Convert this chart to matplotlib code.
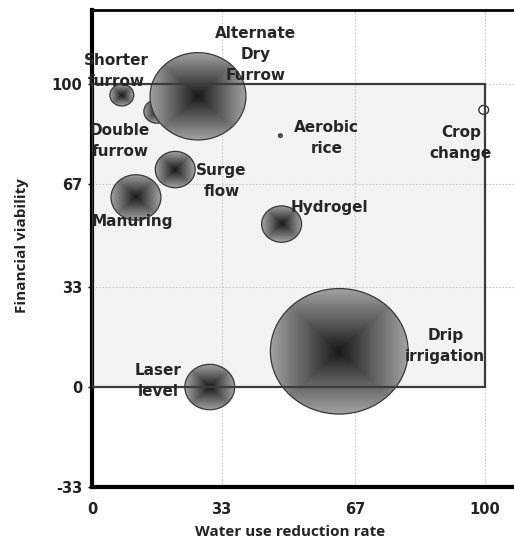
import numpy as np
import matplotlib.pyplot as plt
from matplotlib.patches import Ellipse, Rectangle
from matplotlib.colors import LinearSegmentedColormap

# practices: water use reduction rate, financial viability, bubble size
names = ["Shorter\nfurrow", "Double\nfurrow", "Alternate\nDry\nFurrow", "Surge\nflow",
         "Manuring", "Aerobic\nrice", "Crop\nchange", "Hydrogel", "Laser\nlevel",
         "Drip\nirrigation"]
water = [7.6, 16.5, 27.0, 21.2, 11.2, 48.0, 99.8, 48.3, 30.0, 63.0]
finance = [96.4, 91.0, 96.0, 71.8, 62.6, 83.0, 91.5, 53.8, 0.0, 11.8]
size = [3.0, 3.5, 48.4, 8.4, 13.1, 0.08, 0.5, 8.4, 13.1, 100.0]

# label positions (data units)
label_x = [6.1, 7.1, 41.7, 33.0, 10.4, 59.8, 94.0, 60.6, 16.8, 90.0]
label_y = [104.4, 81.3, 109.8, 68.0, 54.8, 82.3, 80.7, 59.3, 2.0, 13.4]

xticks = [0, 33, 67, 100]
yticks = [-33, 0, 33, 67, 100]

fig = plt.figure(figsize=(5.14, 5.39), dpi=100)
ax = fig.add_axes([0.179, 0.0965, 0.840, 0.885])

xmin, xmax = 0, 110
ymin, ymax = -33, 124.5

# light box for the 0..100 square
ax.add_patch(Rectangle((0, 0), 100, 100, facecolor="#f3f3f3", edgecolor="none", zorder=0))

for v in [33, 67, 100]:
    ax.axvline(v, color="#c8c8c8", lw=0.8, ls=(0, (1.5, 1.5)), zorder=1)
    ax.axhline(v, color="#c8c8c8", lw=0.8, ls=(0, (1.5, 1.5)), zorder=1)

cmap = LinearSegmentedColormap.from_list("bub", ["#181818", "#606060", "#a2a2a2"])
u = np.linspace(-1, 1, 300)
uu, vv = np.meshgrid(u, u)
grad = np.maximum(np.abs(uu), np.abs(vv))

# pixel scale: x 3.93 px/unit, y 3.03 px/unit; bubbles slightly wider than tall
for i in range(len(names)):
    rx_px = 69 * np.sqrt(size[i] / 100.0)
    ry_px = rx_px * 0.91
    wx = rx_px / 3.93
    wy = ry_px / 3.03
    x, y = water[i], finance[i]
    if names[i].startswith("Crop"):
        ax.add_patch(Ellipse((x, y), 2 * wx, 2 * wy, facecolor="white",
                             edgecolor="#333333", lw=1.0, zorder=3 + i * 0.1))
        continue
    e = Ellipse((x, y), 2 * wx, 2 * wy, facecolor="none", edgecolor="#383838",
                lw=0.9, zorder=3 + i * 0.1 + 0.05)
    ax.add_patch(e)
    im = ax.imshow(grad, cmap=cmap, extent=[x - wx, x + wx, y - wy, y + wy],
                   aspect="auto", interpolation="bilinear", zorder=3 + i * 0.1,
                   vmin=0, vmax=1)
    im.set_clip_path(e)

# box outline drawn over bubbles
ax.add_patch(Rectangle((0, 0), 100, 100, facecolor="none", edgecolor="#3c3c3c",
                       lw=1.6, zorder=6))

for i in range(len(names)):
    ax.text(label_x[i], label_y[i], names[i], ha="center", va="center",
            fontsize=11, color="#262626", fontweight="bold", linespacing=1.5,
            zorder=8)

ax.set_xlim(xmin, xmax)
ax.set_ylim(ymin, ymax)
ax.set_xticks(xticks)
ax.set_yticks(yticks)
ax.set_xticklabels([str(t) for t in xticks], fontsize=10.5, fontweight="bold", color="#222222")
ax.set_yticklabels([str(t) for t in yticks], fontsize=10.5, fontweight="bold", color="#222222")
ax.tick_params(axis="x", length=0, pad=11)
ax.tick_params(axis="y", length=3, width=1, pad=4)

for side in ["left", "bottom"]:
    ax.spines[side].set_linewidth(3)
ax.spines["top"].set_linewidth(2)
ax.spines["right"].set_visible(False)

fig.text(0.043, 0.545, "Financial viability", rotation=90, ha="center", va="center",
         fontsize=11, fontweight="bold", family="Open Sans", color="#222222")
fig.text(0.564, 0.013, "Water use reduction rate", ha="center", va="center",
         fontsize=11, fontweight="bold", family="Open Sans", color="#222222")

fig.savefig("out.png", dpi=100)
